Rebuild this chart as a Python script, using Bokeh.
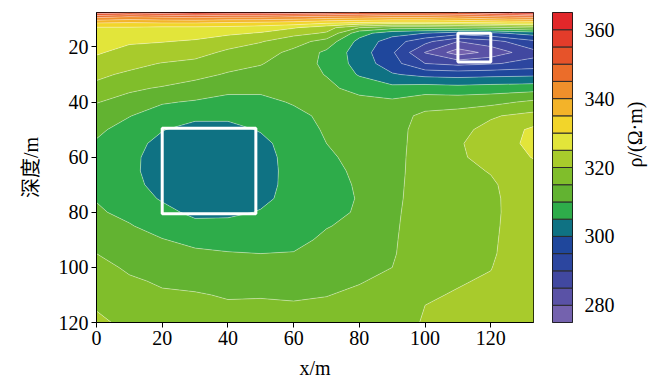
import math
import numpy as np
from bokeh.plotting import figure
from bokeh.layouts import row
from bokeh.models import FixedTicker, Range1d
from bokeh.embed import file_html
from bokeh.resources import INLINE

# ---- data ----
x_m = [0, 10, 20, 30, 40, 50, 60, 70, 80, 90, 100, 110, 120, 133]
depth_m = [7.5, 9, 11, 13, 15, 18, 22, 26, 30, 35, 40, 45, 50, 55, 60, 65, 70,
           75, 80, 85, 90, 95, 100, 105, 110, 115, 120]
rho = [
    [358, 356, 358, 360, 359, 359, 358, 357, 355, 354, 354, 355, 358, 362],
    [347, 345, 346, 347, 346, 346, 345, 344, 343, 342, 342, 343, 345, 347],
    [336, 335.5, 336, 336, 335.5, 335, 334, 332, 331, 330, 330, 331, 332, 333],
    [329.5, 329.5, 329, 329, 328.5, 327.5, 325.5, 322, 315, 312, 312, 313, 314, 316],
    [328.5, 327.5, 327, 326.8, 326, 324.6, 321.5, 319.5, 307, 302, 300, 297.5, 299, 302],
    [327, 325.6, 325.2, 324.5, 322, 320.3, 317.2, 313, 303.5, 297.5, 291.5, 285, 288, 294],
    [325.5, 323.5, 322.7, 321.5, 319.2, 317.2, 313.7, 309, 302.5, 295.7, 284.8, 277.5, 281.5, 288.5],
    [323.5, 321.2, 319.8, 319, 316.5, 315.3, 312.5, 309, 303, 297, 290, 288.5, 289.5, 291.5],
    [320.8, 319.3, 317.5, 316.2, 314.6, 313.5, 312, 309.8, 304.5, 300.5, 298.5, 298, 298.5, 299],
    [319, 315.7, 314.6, 313.3, 311, 311, 311.5, 311, 308.5, 306.5, 307.5, 307, 307.5, 308],
    [315.2, 313.5, 310.5, 309.5, 308.8, 308.8, 310.4, 311.5, 311.5, 311, 313, 313, 313.5, 316],
    [313, 310.2, 307.5, 306, 305.8, 306.8, 308.8, 311, 312.5, 313.2, 316, 317, 319.5, 321.5],
    [311, 308, 305.2, 303.5, 303.8, 305.3, 308, 310.5, 312.5, 313.6, 316.5, 318.8, 321.3, 326],
    [309.5, 306.5, 303.8, 301.8, 302, 304, 306.8, 310, 312, 313.6, 316.7, 319.6, 321.8, 326.5],
    [308.5, 306, 303.2, 301.2, 301.2, 303.5, 306.5, 309.2, 311.5, 313.7, 316.8, 319.5, 321.2, 325.3],
    [308.5, 306, 303, 301, 301, 303.5, 306.3, 308.8, 310.8, 313.8, 316.8, 319, 320.2, 323],
    [309, 306.5, 303.3, 301.3, 301.2, 303.6, 306.3, 308.7, 310.4, 313.9, 316.9, 318.7, 319.5, 322.5],
    [309.8, 307.5, 304.5, 302, 302, 304, 306.5, 308.8, 310.2, 314, 317, 318.6, 319.3, 322.3],
    [310.5, 309, 306.5, 303.8, 304, 305.3, 307, 309.2, 310.3, 314.2, 317.1, 318.6, 319.3, 322.2],
    [311.8, 310.3, 308.3, 306.5, 306.5, 306.8, 307.8, 309.8, 311, 314.3, 317.4, 318.8, 319.4, 322.2],
    [313.5, 312, 310.2, 308.8, 308.8, 308.5, 308.8, 310.8, 312, 314.4, 317.8, 319, 319.5, 322.3],
    [315, 313, 312, 310.8, 310.2, 310, 310.2, 312, 313, 314.5, 318.3, 319.3, 319.6, 322.4],
    [316.5, 314.3, 313.5, 312.5, 311.8, 311.5, 311.5, 313, 314, 315, 318.8, 319.6, 319.9, 322.6],
    [317.5, 315.6, 314.5, 314, 313.3, 313, 313, 314, 314.8, 315.8, 319.3, 319.8, 320.3, 322.8],
    [318.5, 317, 315.5, 315.3, 314.7, 314.8, 314.6, 314.9, 315.6, 316.5, 319.7, 320.2, 321.2, 323],
    [319.8, 318, 316.2, 316, 315.6, 315.6, 315.5, 315.7, 316.2, 317, 320.1, 321, 321.6, 323.2],
    [321, 318.8, 316.8, 316.5, 316.3, 316.2, 316, 316.3, 316.8, 317.5, 320.5, 321.3, 322, 323.4],
]
levels = [275, 280, 285, 290, 295, 300, 305, 310, 315, 320, 325, 330, 335,
          340, 345, 350, 355, 360, 365]
palette = ["#7462ae", "#5a52a6", "#4148a0", "#2c469f", "#1f479c", "#0f7283",
           "#2eac4a", "#62b331", "#80be2b", "#a8cb2c", "#e2e53a", "#f2d52a",
           "#f3b329", "#ef8f2b", "#eb6d2a", "#e6532a", "#e33c2a", "#e2272a"]
x_ticks = [0, 20, 40, 60, 80, 100, 120]
y_ticks = [20, 40, 60, 80, 100, 120]
cb_ticks = [280, 300, 320, 340, 360]
box_x0 = [20, 110]
box_x1 = [48.5, 120]
box_d0 = [49.5, 15]
box_d1 = [80.5, 25.5]

SERIF = "Liberation Serif"
MIXED = "'Liberation Serif', 'Noto Sans CJK SC'"

# ---- main contour figure ----
p = figure(width=541, height=385, x_range=Range1d(0, 133), y_range=Range1d(120, 7.5),
           output_backend="svg", toolbar_location=None,
           min_border_left=96, min_border_right=8, min_border_top=12, min_border_bottom=63)
p.contour(x=np.array(x_m, dtype=float), y=np.array(depth_m, dtype=float),
          z=np.array(rho, dtype=float), levels=levels,
          fill_color=palette, line_color="white", line_alpha=0.45, line_width=0.8)
p.quad(left=box_x0, right=box_x1, top=box_d0, bottom=box_d1,
       fill_color=None, line_color="white", line_width=3)

p.xgrid.grid_line_color = None
p.ygrid.grid_line_color = None
p.outline_line_color = "black"
p.outline_line_alpha = 1
p.outline_line_width = 1
p.background_fill_color = "white"
p.border_fill_color = "white"

for ax, ticks in ((p.xaxis, x_ticks), (p.yaxis, y_ticks)):
    ax.ticker = FixedTicker(ticks=ticks)
    ax.major_tick_in = 0
    ax.major_tick_out = 5
    ax.minor_tick_line_color = None
    ax.major_tick_line_color = "black"
    ax.axis_line_color = "black"
    ax.major_label_text_font = SERIF
    ax.major_label_text_font_size = "20px"
    ax.major_label_text_color = "black"
    ax.major_label_standoff = 3
    ax.axis_label_text_font_size = "20px"
    ax.axis_label_text_font_style = "normal"
    ax.axis_label_text_color = "black"

p.xaxis.axis_label = "x/m"
p.xaxis.axis_label_text_font = SERIF
p.xaxis.axis_label_standoff = 9
p.yaxis.axis_label = "深度/m"
p.yaxis.axis_label_text_font = MIXED
p.yaxis.axis_label_standoff = 14

# ---- colour bar figure ----
cb = figure(width=120, height=385, x_range=Range1d(0, 1), y_range=Range1d(275, 365),
            output_backend="svg", toolbar_location=None, y_axis_location="right",
            min_border_left=11, min_border_right=89, min_border_top=8, min_border_bottom=55)
cb.quad(left=0, right=1, bottom=levels[:-1], top=levels[1:],
        fill_color=palette, line_color="#2a2a2a", line_width=1)
cb.xaxis.visible = False
cb.xgrid.grid_line_color = None
cb.ygrid.grid_line_color = None
cb.outline_line_color = "black"
cb.outline_line_alpha = 1
cb.yaxis.ticker = FixedTicker(ticks=cb_ticks)
cb.yaxis.major_tick_line_color = None
cb.yaxis.minor_tick_line_color = None
cb.yaxis.axis_line_color = None
cb.yaxis.major_label_standoff = 6
cb.yaxis.major_label_text_font = SERIF
cb.yaxis.major_label_text_font_size = "20px"
cb.yaxis.major_label_text_color = "black"
cb.yaxis.axis_label = "ρ/(Ω·m)"
cb.yaxis.axis_label_text_font = SERIF
cb.yaxis.axis_label_text_font_size = "20px"
cb.yaxis.axis_label_text_font_style = "normal"
cb.yaxis.axis_label_text_color = "black"
cb.yaxis.axis_label_standoff = 17
if "axis_label_orientation" in cb.yaxis[0].properties():
    cb.yaxis.axis_label_orientation = math.pi / 2

layout = row(p, cb)
open("out.html", "w").write(file_html(layout, INLINE))
